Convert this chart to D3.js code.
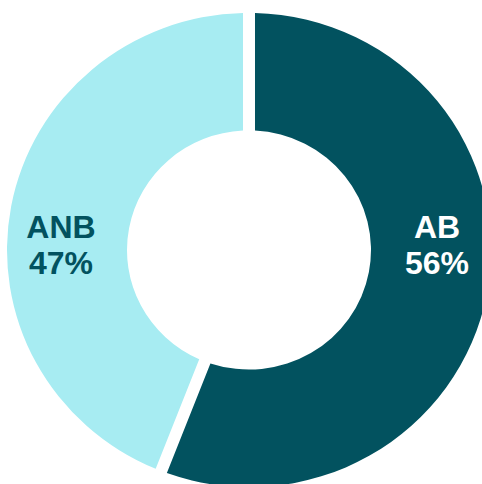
<!DOCTYPE html>
<html>
<head>
<meta charset="utf-8">
<script src="https://cdn.jsdelivr.net/npm/d3@7"></script>
<style>
  html, body { margin: 0; padding: 0; background: #fff; overflow: hidden; }
  svg { display: block; }
</style>
</head>
<body>
<div id="chart"></div>
<script>
// data
const categories = ["AB", "ANB"];
const values = [56, 44];          // share of the ring each slice takes
const pctLabels = ["56%", "47%"]; // text printed on the slices
const colors = ["#02525f", "#a7ecf2"];
const textColors = ["#ffffff", "#02525f"];

function Init() {
    const width = 482, height = 484;
    const cx = 249, cy = 250;
    const outerR = 242, innerR = 122;
    const squash = 0.98;

    const svg = d3.select("#chart").append("svg")
        .attr("width", width)
        .attr("height", height);

    // chart is a touch squashed vertically in the reference
    const g = svg.append("g")
        .attr("transform", `translate(${cx},${cy}) scale(1,${squash})`);

    const pie = d3.pie().sort(null).value(d => d.value).padAngle(12 / outerR);
    const arc = d3.arc().innerRadius(innerR).outerRadius(outerR).padRadius(outerR);

    const data = categories.map((c, i) => ({ name: c, value: values[i], label: pctLabels[i], i: i }));

    g.selectAll("path")
      .data(pie(data))
      .enter()
      .append("path")
      .attr("d", arc)
      .attr("fill", d => colors[d.data.i]);

    // labels sit on the horizontal through the centre, mid ring
    const labelR = (innerR + outerR) / 2 + 6;
    const labels = g.selectAll("text.lbl")
      .data(pie(data))
      .enter()
      .append("text")
      .attr("class", "lbl")
      .attr("text-anchor", "middle")
      .attr("font-family", "Liberation Sans, Arial, sans-serif")
      .attr("font-weight", "bold")
      .attr("font-size", 32)
      .attr("fill", d => textColors[d.data.i])
      .attr("transform", d => {
          const mid = (d.startAngle + d.endAngle) / 2;
          const x = mid < Math.PI ? labelR : -labelR;
          return `translate(${x},0) scale(1,${1 / squash})`;
      });

    labels.append("tspan").attr("x", 0).attr("y", -12).text(d => d.data.name);
    labels.append("tspan").attr("x", 0).attr("y", 24).text(d => d.data.label);
}

Init();
</script>
</body>
</html>
